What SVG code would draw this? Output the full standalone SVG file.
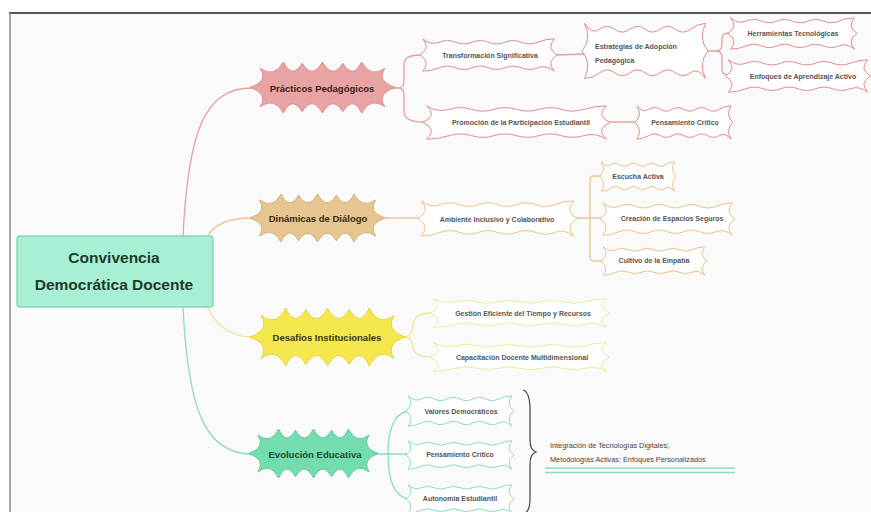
<svg xmlns="http://www.w3.org/2000/svg" xmlns:xlink="http://www.w3.org/1999/xlink" width="871" height="512" viewBox="0 0 871 512">
<style>
text{font-family:"Liberation Sans",Arial,sans-serif;text-anchor:middle;dominant-baseline:central}
.main{font-size:9.5px;font-weight:bold}
.sub{font-size:7px;font-weight:bold;fill:#555}
.root{font-size:15.5px;font-weight:bold;fill:#1e3b2e}
.cn{fill:none;stroke-width:1.3;stroke-linecap:round}
.pk{stroke:#e3a2a2}.tn{stroke:#ebc597}.yl{stroke:#efe69a}.gr{stroke:#8ddcbf}
.sw{stroke-width:1}
</style>
<defs>
<path id="star" vector-effect="non-scaling-stroke" d="M-50,0 Q-37,-5 -43,-15 Q-33,-7 -27,-20 Q-21,-6 -14,-19 Q-7,-6 0,-20 Q7,-6 14,-19 Q21,-6 27,-20 Q33,-7 43,-15 Q37,-5 50,0 Q37,5 43,15 Q33,7 27,20 Q21,6 14,19 Q7,6 0,20 Q-7,6 -14,19 Q-21,6 -27,20 Q-33,7 -43,15 Q-37,5 -50,0 Z"/>
<path id="wav" vector-effect="non-scaling-stroke" d="M-48,-19 Q-42,-11 -36,-15 T-24,-15 T-12,-15 T0,-15 T12,-15 T24,-15 T36,-15 T48,-19 Q42,-8 50,0 Q42,8 48,19 Q42,11 36,15 T24,15 T12,15 T0,15 T-12,15 T-24,15 T-36,15 T-48,19 Q-42,8 -50,0 Q-42,-8 -48,-19 Z"/>
</defs>
<rect x="0" y="0" width="871" height="512" fill="#ffffff"/>
<rect x="10" y="13" width="861" height="499" fill="#fafafa"/>
<path d="M9,13 L871,13" stroke="#555" stroke-width="2"/>
<path d="M10,13 L10,512" stroke="#888" stroke-width="1.5"/>

<g id="connectors">
<path class="cn pk" d="M183,237 C188,130 205,88 252,88"/>
<path class="cn pk" d="M394,88 L399,88 Q404,88 404,80 L404,64 Q404,55 421,55 M399,88 Q404,88 404,96 L404,112 Q404,122 424,122"/>
<path class="cn pk" d="M556,55 L584,54"/>
<path class="cn pk" d="M707,51 L716,51 Q722,51 722,44 L722,38 Q722,33 730,33 M716,51 Q722,51 722,58 L722,69 Q722,75 728,75"/>
<path class="cn pk" d="M609,122 L636,122"/>
<path class="cn tn" d="M207,237 C214,224 228,218 252,218"/>
<path class="cn tn" d="M385,218 L419,218"/>
<path class="cn tn" d="M577,218 L601,218 M601,176 L594,176 Q590,176 590,180 L590,257 Q590,261 594,261 L602,261"/>
<path class="cn yl" d="M207,306 C214,322 228,337 252,337"/>
<path class="cn yl" d="M404,337 Q412,337 413,325 Q414,313 431,313 M404,337 Q412,337 413,347 Q414,357 431,357"/>
<path class="cn gr" d="M183,307 C188,410 205,454 252,454"/>
<path class="cn gr" d="M377,454 L407,454"/>
<path class="cn gr" d="M408,411 Q388,415 388,454 Q388,495 408,499"/>
</g>

<g id="root">
<rect x="17" y="236" width="196" height="71" rx="3" fill="#a8f0d3" stroke="#82d9b6" stroke-width="1.5"/>
<text class="root" x="114" y="257">Convivencia</text>
<text class="root" x="114" y="284">Democrática Docente</text>
</g>

<g id="practicas">
<use xlink:href="#star" transform="translate(322.5,87.5) scale(1.45,1.275)" fill="#e9a3a3" stroke="#d98c8c"/>
<text class="main" x="322" y="88" fill="#3b1a1e">Prácticos Pedagógicos</text>
</g>
<g id="transformacion">
<use xlink:href="#wav" transform="translate(488.5,55) scale(1.37,0.85)" fill="#fff" stroke="#e08d8d" class="sw"/>
<text class="sub" x="490" y="55">Transformación Significativa</text>
</g>
<g id="estrategias">
<use xlink:href="#wav" transform="translate(645,51) scale(1.26,1.45)" fill="#fff" stroke="#e08d8d" class="sw"/>
<text class="sub" x="595" y="46" style="text-anchor:start">Estrategias de Adopción</text>
<text class="sub" x="595" y="60" style="text-anchor:start">Pedagógica</text>
</g>
<g id="herramientas">
<use xlink:href="#wav" transform="translate(792.5,33.5) scale(1.29,0.825)" fill="#fff" stroke="#e08d8d" class="sw"/>
<text class="sub" x="793" y="33">Herramientas Tecnológicas</text>
</g>
<g id="enfoques">
<use xlink:href="#wav" transform="translate(798,76) scale(1.45,0.85)" fill="#fff" stroke="#e08d8d" class="sw"/>
<text class="sub" x="803" y="76">Enfoques de Aprendizaje Activo</text>
</g>
<g id="promocion">
<use xlink:href="#wav" transform="translate(516.5,122.5) scale(1.87,0.875)" fill="#fff" stroke="#e08d8d" class="sw"/>
<text class="sub" x="521" y="122">Promoción de la Participación Estudiantil</text>
</g>
<g id="pensamiento1">
<use xlink:href="#wav" transform="translate(684,122.5) scale(0.98,0.875)" fill="#fff" stroke="#e08d8d" class="sw"/>
<text class="sub" x="685" y="122">Pensamiento Crítico</text>
</g>

<g id="dinamicas">
<use xlink:href="#star" transform="translate(317.5,218) scale(1.35,1.2)" fill="#e6c590" stroke="#d6b07a"/>
<text class="main" x="318" y="218" fill="#3a2a12">Dinámicas de Diálogo</text>
</g>
<g id="ambiente">
<use xlink:href="#wav" transform="translate(497.5,218.5) scale(1.59,0.925)" fill="#fff" stroke="#efc08e" class="sw"/>
<text class="sub" x="497" y="219">Ambiente Inclusivo y Colaborativo</text>
</g>
<g id="escucha">
<use xlink:href="#wav" transform="translate(638,176.5) scale(0.76,0.775)" fill="#fff" stroke="#efc08e" class="sw"/>
<text class="sub" x="638" y="176">Escucha Activa</text>
</g>
<g id="creacion">
<use xlink:href="#wav" transform="translate(667.5,219) scale(1.35,0.85)" fill="#fff" stroke="#efc08e" class="sw"/>
<text class="sub" x="672" y="218">Creación de Espacios Seguros</text>
</g>
<g id="cultivo">
<use xlink:href="#wav" transform="translate(654,261) scale(1.06,0.75)" fill="#fff" stroke="#efc08e" class="sw"/>
<text class="sub" x="654" y="260">Cultivo de la Empatía</text>
</g>

<g id="desafios">
<use xlink:href="#star" transform="translate(327.5,337) scale(1.55,1.45)" fill="#f5e84c" stroke="#e6d63e"/>
<text class="main" x="327" y="337" fill="#3a3510">Desafíos Institucionales</text>
</g>
<g id="gestion">
<use xlink:href="#wav" transform="translate(520,313) scale(1.8,0.75)" fill="#fff" stroke="#f0ea9e" class="sw"/>
<text class="sub" x="523" y="313">Gestión Eficiente del Tiempo y Recursos</text>
</g>
<g id="capacitacion">
<use xlink:href="#wav" transform="translate(520,357) scale(1.8,0.75)" fill="#fff" stroke="#f0ea9e" class="sw"/>
<text class="sub" x="522" y="357">Capacitación Docente Multidimensional</text>
</g>

<g id="evolucion">
<use xlink:href="#star" transform="translate(313.5,453.5) scale(1.29,1.225)" fill="#74ddb0" stroke="#5ccb9b"/>
<text class="main" x="315" y="454" fill="#1b4a2c">Evolución Educativa</text>
</g>
<g id="valores">
<use xlink:href="#wav" transform="translate(460,411) scale(1.08,0.8)" fill="#fff" stroke="#8ddcbf" class="sw"/>
<text class="sub" x="461" y="411">Valores Democráticos</text>
</g>
<g id="pensamiento2">
<use xlink:href="#wav" transform="translate(460,455) scale(1.08,0.75)" fill="#fff" stroke="#8ddcbf" class="sw"/>
<text class="sub" x="460" y="454">Pensamiento Crítico</text>
</g>
<g id="autonomia">
<use xlink:href="#wav" transform="translate(460,499) scale(1.08,0.75)" fill="#fff" stroke="#8ddcbf" class="sw"/>
<text class="sub" x="460" y="498">Autonomía Estudiantil</text>
</g>

<g id="summary">
<path d="M523,390 Q530,392 530,410 L530,440 Q530,450 536,452 Q530,454 530,464 L530,500 Q530,512 523,514" fill="none" stroke="#444" stroke-width="1.2"/>
<text x="550" y="445" style="text-anchor:start;font-size:7.3px;fill:#444">Integración de Tecnologías Digitales;</text>
<text x="550" y="459" style="text-anchor:start;font-size:7.3px;fill:#444">Metodologías Activas; Enfoques Personalizados</text>
<path d="M545,468 L735,468 M545,472.5 L735,472.5" stroke="#8ddcbf" stroke-width="1.5"/>
</g>
</svg>
